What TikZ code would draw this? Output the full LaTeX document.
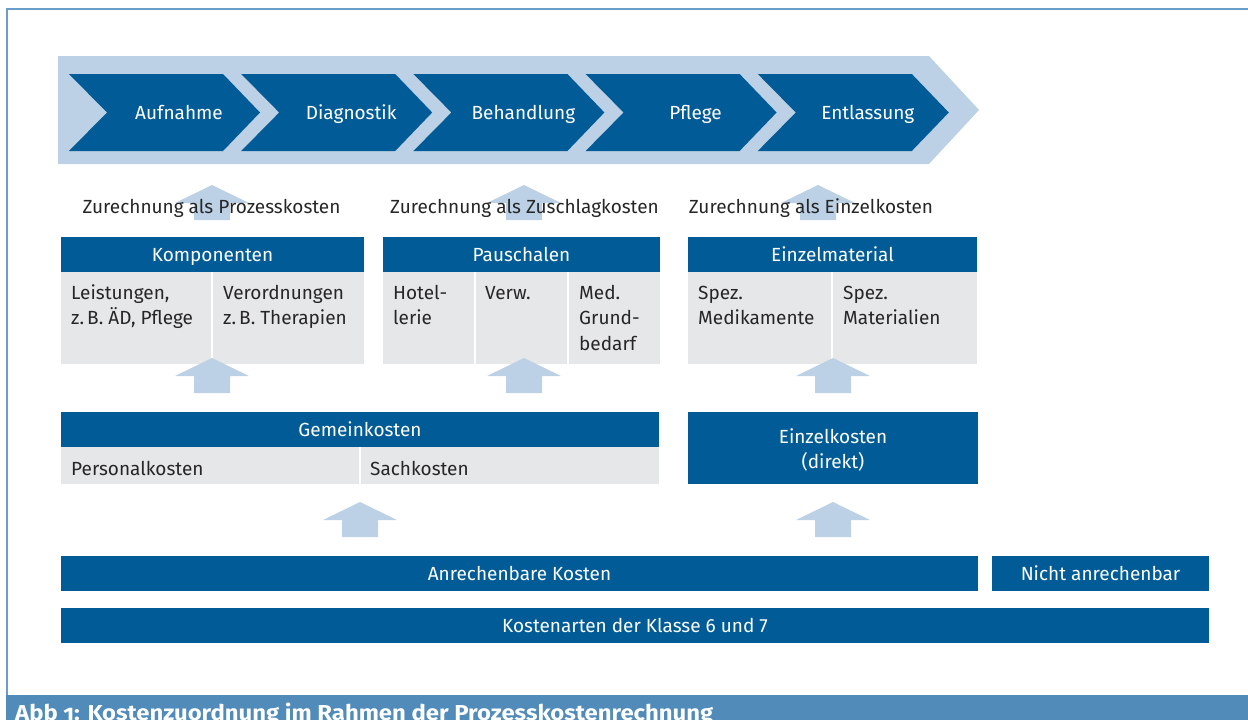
\documentclass[tikz,border=0pt]{standalone}
\usepackage{fontspec}
\setmainfont{Fira Sans}
\usetikzlibrary{calc}

\definecolor{dblue}{HTML}{005B96}
\definecolor{lblue}{HTML}{BCD1E5}
\definecolor{lgray}{HTML}{E6E7E9}
\definecolor{capbar}{HTML}{508BB9}
\definecolor{frameline}{HTML}{6B9DC9}
\definecolor{txt}{HTML}{262626}

\newcommand\basefs{\fontsize{19}{25.5}\selectfont}

\begin{document}
\begin{tikzpicture}[x=1pt,y=-1pt,
  font=\basefs,
  hdr/.style={fill=dblue, text=white, inner sep=0pt, text height=13pt, text depth=0pt, minimum height=35},
  bodybox/.style={fill=lgray, inner sep=0pt},
  % multi-line texts: the base anchor sits on the last line
  bodytxt/.style={text=txt, inner sep=0pt, anchor=base west, align=left},
  steplbl/.style={text=white, inner sep=0pt, anchor=base},
  assign/.style={text=txt, inner sep=0pt, anchor=base},
  divider/.style={white, line width=1.5pt},
  uparrow/.pic={\fill[lblue] (0,0) -- (37,18) -- (18,18) -- (18,35) -- (-18,35) -- (-18,18) -- (-37,18) -- cycle;}
]
\useasboundingbox (0,0) rectangle (1248,720);
\clip (0,0) rectangle (1248,720);

% outer frame and caption bar
\draw[frameline, line width=1.5pt] (1250,9) -- (7,9) -- (7,696);
\fill[capbar] (6.25,695) rectangle (1250,722);
\node[anchor=base west, inner sep=0pt, text=white] (caption) at (15,720.5)
  {\resizebox{698pt}{17.5pt}{\bfseries\addfontfeatures{Numbers=OldStyle}Abb 1: Kostenzuordnung im Rahmen der Prozesskostenrechnung}};

% process band
\fill[lblue] (58,56) -- (929,56) -- (979,110) -- (929,164) -- (58,164) -- cycle;

% process steps
\foreach \lbl [count=\i from 0] in {Aufnahme,Diagnostik,Behandlung,Pflege,Entlassung}{
  \pgfmathsetmacro\xo{69+172.2*\i}
  \fill[dblue] (\xo,74) -- ({\xo+154},74) -- ({\xo+191},112.5) -- ({\xo+154},151) -- (\xo,151) -- ({\xo+38},112.5) -- cycle;
  \node[steplbl] (step\i) at ({\xo+110},119.5) {\lbl};
}

% upper arrows and assignment labels
\pic at (212,185) {uparrow};
\pic at (524,185) {uparrow};
\pic at (818,185) {uparrow};
\node[assign] (zproz) at (211.5,213) {Zurechnung als Prozesskosten};
\node[assign] (zzus) at (524.5,213) {Zurechnung als Zuschlagkosten};
\node[assign] (zeinz) at (811,213) {Zurechnung als Einzelkosten};

% Komponenten
\node[hdr, minimum width=303] (komp) at (212.5,254.5) {Komponenten};
\node[bodybox, minimum width=303, minimum height=92] (kompb) at (212.5,318) {};
\draw[divider] (212,272) -- (212,364);
\node[bodytxt] (leist) at (71,324.5) {Leistungen,\\z.\,B. ÄD, Pflege};
\node[bodytxt] (verord) at (223,324.5) {Verordnungen\\z.\,B. Therapien};

% Pauschalen
\node[hdr, minimum width=277] (pausch) at (521.5,254.5) {Pauschalen};
\node[bodybox, minimum width=277, minimum height=92] (pauschb) at (521.5,318) {};
\draw[divider] (475,272) -- (475,364);
\draw[divider] (568,272) -- (568,364);
\node[bodytxt] (hotel) at (393,324.5) {Hotel-\\lerie};
\node[bodytxt] (verw) at (485,299) {Verw.};
\node[bodytxt] (med) at (579,350) {Med.\\Grund-\\bedarf};

% Einzelmaterial
\node[hdr, minimum width=289] (einzm) at (832.5,254.5) {Einzelmaterial};
\node[bodybox, minimum width=289, minimum height=92] (einzmb) at (832.5,318) {};
\draw[divider] (832,272) -- (832,364);
\node[bodytxt] (spezmed) at (698,324.5) {Spez.\\Medikamente};
\node[bodytxt] (spezmat) at (843,324.5) {Spez.\\Materialien};

% middle arrows
\pic at (212,358) {uparrow};
\pic at (524,358) {uparrow};
\pic at (833,358) {uparrow};

% Gemeinkosten
\node[hdr, minimum width=598] (gemein) at (360,429.5) {Gemeinkosten};
\node[bodybox, minimum width=598, minimum height=37] (gemeinb) at (360,465.5) {};
\draw[divider] (360,447) -- (360,484);
\node[bodytxt] (personal) at (71,475) {Personalkosten};
\node[bodytxt] (sach) at (370,475) {Sachkosten};

% Einzelkosten
\node[fill=dblue, inner sep=0pt, minimum width=290, minimum height=72] (einzk) at (833,448) {};
\node[text=white, inner sep=0pt, anchor=base, align=center] (einzkt) at (833,468.5) {Einzelkosten\\(direkt)};

% lower arrows
\pic at (360,502) {uparrow};
\pic at (833,502) {uparrow};

% cost base
\node[hdr, minimum width=917] (anr) at (519.5,573.5) {Anrechenbare Kosten};
\node[hdr, minimum width=217] (nicht) at (1100.5,573.5) {Nicht anrechenbar};
\node[hdr, minimum width=1148] (klasse) at (635,625.5) {Kostenarten der Klasse 6 und 7};
\end{tikzpicture}
\end{document}
